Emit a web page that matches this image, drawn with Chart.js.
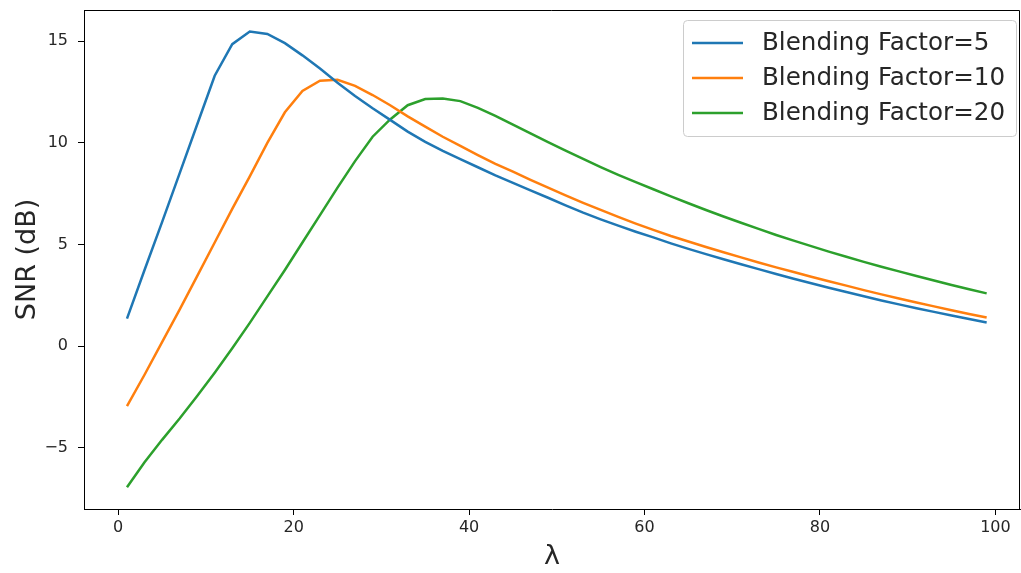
<!DOCTYPE html>
<html>
<head>
<meta charset="utf-8">
<script src="https://cdn.jsdelivr.net/npm/chart.js@4/dist/chart.umd.min.js"></script>
<style>
  html, body { margin: 0; padding: 0; background: #ffffff; }
  #wrap { width: 1021px; height: 573px; position: relative; }
</style>
</head>
<body>
<div id="wrap"><canvas id="c" width="1021" height="573"></canvas></div>
<script>
const lambdaValues = [1,3,5,7,9,11,13,15,17,19,21,23,25,27,29,31,33,35,37,39,41,43,45,47,49,51,53,55,57,59,61,63,65,67,69,71,73,75,77,79,81,83,85,87,89,91,93,95,97,99];
const snrBF5 = [1.36,3.75,6.1,8.5,10.9,13.3,14.85,15.47,15.35,14.9,14.3,13.65,12.95,12.3,11.7,11.13,10.55,10.05,9.6,9.2,8.8,8.4,8.03,7.66,7.3,6.93,6.57,6.24,5.93,5.63,5.35,5.06,4.79,4.53,4.28,4.03,3.79,3.55,3.32,3.1,2.88,2.67,2.46,2.25,2.06,1.87,1.69,1.51,1.34,1.17];
const snrBF10 = [-2.94,-1.4,0.2,1.8,3.45,5.1,6.75,8.35,10.0,11.5,12.55,13.05,13.1,12.8,12.35,11.85,11.3,10.8,10.3,9.85,9.4,8.97,8.58,8.18,7.8,7.42,7.05,6.7,6.36,6.03,5.72,5.42,5.15,4.88,4.62,4.37,4.12,3.88,3.65,3.42,3.2,2.98,2.76,2.55,2.35,2.15,1.96,1.77,1.59,1.41];
const snrBF20 = [-6.93,-5.7,-4.6,-3.55,-2.45,-1.3,-0.1,1.15,2.45,3.75,5.1,6.45,7.8,9.1,10.3,11.15,11.85,12.15,12.18,12.05,11.72,11.33,10.9,10.46,10.04,9.62,9.21,8.81,8.43,8.07,7.72,7.37,7.03,6.7,6.38,6.07,5.77,5.47,5.19,4.92,4.65,4.4,4.15,3.91,3.68,3.45,3.23,3.01,2.8,2.6];
const seriesLabels = ['Blending Factor=5', 'Blending Factor=10', 'Blending Factor=20'];
const seriesColors = ['#1f77b4', '#ff7f0e', '#2ca02c'];
const xTickValues = [0, 20, 40, 60, 80, 100];
const yTickValues = [-5, 0, 5, 10, 15];
const xAxisTitle = 'λ';
const yAxisTitle = 'SNR (dB)';

const FONT = "'DejaVu Sans', sans-serif";
const TEXT = '#262626';

function pts(ys) { return lambdaValues.map((x, i) => ({ x: x, y: ys[i] })); }

const allSeries = [snrBF5, snrBF10, snrBF20];
const datasets = allSeries.map((ys, i) => ({
  label: seriesLabels[i],
  data: pts(ys),
  borderColor: seriesColors[i],
  backgroundColor: seriesColors[i],
  borderWidth: 2.5,
  pointRadius: 0,
  tension: 0,
  fill: false
}));

const framePlugin = {
  id: 'frame',
  afterDatasetsDraw(chart) {
    const { ctx, chartArea: a } = chart;
    ctx.save();
    ctx.strokeStyle = '#000';
    ctx.lineWidth = 1;
    ctx.beginPath();
    ctx.moveTo(a.left, a.top + 0.5);
    ctx.lineTo(a.right - 0.5, a.top + 0.5);
    ctx.lineTo(a.right - 0.5, a.bottom);
    ctx.stroke();
    ctx.restore();
  }
};

const legendPlugin = {
  id: 'boxLegend',
  afterDraw(chart) {
    const { ctx } = chart;
    const bx = 683.5, by = 20.5, bw = 333, bh = 116, r = 4;
    ctx.save();
    ctx.beginPath();
    ctx.moveTo(bx + r, by);
    ctx.lineTo(bx + bw - r, by);
    ctx.quadraticCurveTo(bx + bw, by, bx + bw, by + r);
    ctx.lineTo(bx + bw, by + bh - r);
    ctx.quadraticCurveTo(bx + bw, by + bh, bx + bw - r, by + bh);
    ctx.lineTo(bx + r, by + bh);
    ctx.quadraticCurveTo(bx, by + bh, bx, by + bh - r);
    ctx.lineTo(bx, by + r);
    ctx.quadraticCurveTo(bx, by, bx + r, by);
    ctx.closePath();
    ctx.fillStyle = 'rgba(255,255,255,0.85)';
    ctx.fill();
    ctx.strokeStyle = '#cccccc';
    ctx.lineWidth = 1;
    ctx.stroke();
    ctx.font = '24.6px ' + FONT;
    ctx.textBaseline = 'middle';
    chart.data.datasets.forEach((ds, i) => {
      const y = 43 + i * 35;
      ctx.strokeStyle = ds.borderColor;
      ctx.lineWidth = 2.5;
      ctx.beginPath();
      ctx.moveTo(692, y);
      ctx.lineTo(743, y);
      ctx.stroke();
      ctx.fillStyle = TEXT;
      ctx.fillText(ds.label, 762, y + 1);
    });
    ctx.restore();
  }
};

new Chart(document.getElementById('c'), {
  type: 'line',
  data: { datasets: datasets },
  options: {
    responsive: false,
    animation: false,
    layout: { padding: { top: 10, right: 1, left: 0, bottom: 0 } },
    plugins: { legend: { display: false }, tooltip: { enabled: false } },
    scales: {
      x: {
        type: 'linear',
        min: -3.9,
        max: 102.8,
        afterFit(scale) { scale.height = 64; scale.paddingLeft = 0; scale.paddingRight = 0; },
        afterBuildTicks(scale) { scale.ticks = xTickValues.map(v => ({ value: v })); },
        ticks: { font: { family: FONT, size: 16 }, color: TEXT, padding: 3, maxRotation: 0 },
        grid: { display: true, drawOnChartArea: false, drawTicks: true, tickLength: 6, color: '#000', lineWidth: 1 },
        border: { display: true, color: '#000', width: 1 },
        title: { display: true, text: xAxisTitle, font: { family: FONT, size: 27 }, color: TEXT, padding: { top: 0, bottom: 0 } }
      },
      y: {
        type: 'linear',
        min: -8.0,
        max: 16.53,
        afterFit(scale) { scale.width = 84; scale.paddingTop = 0; scale.paddingBottom = 0; },
        afterBuildTicks(scale) { scale.ticks = yTickValues.map(v => ({ value: v })); },
        ticks: {
          font: { family: FONT, size: 16 }, color: TEXT, padding: 10,
          callback: v => (v < 0 ? '\u2212' + Math.abs(v) : String(v))
        },
        grid: { display: true, drawOnChartArea: false, drawTicks: true, tickLength: 6, color: '#000', lineWidth: 1 },
        border: { display: true, color: '#000', width: 1 },
        title: { display: true, text: yAxisTitle, font: { family: FONT, size: 27 }, color: TEXT, padding: { top: 12, bottom: 0 } }
      }
    }
  },
  plugins: [framePlugin, legendPlugin]
});
</script>
</body>
</html>
